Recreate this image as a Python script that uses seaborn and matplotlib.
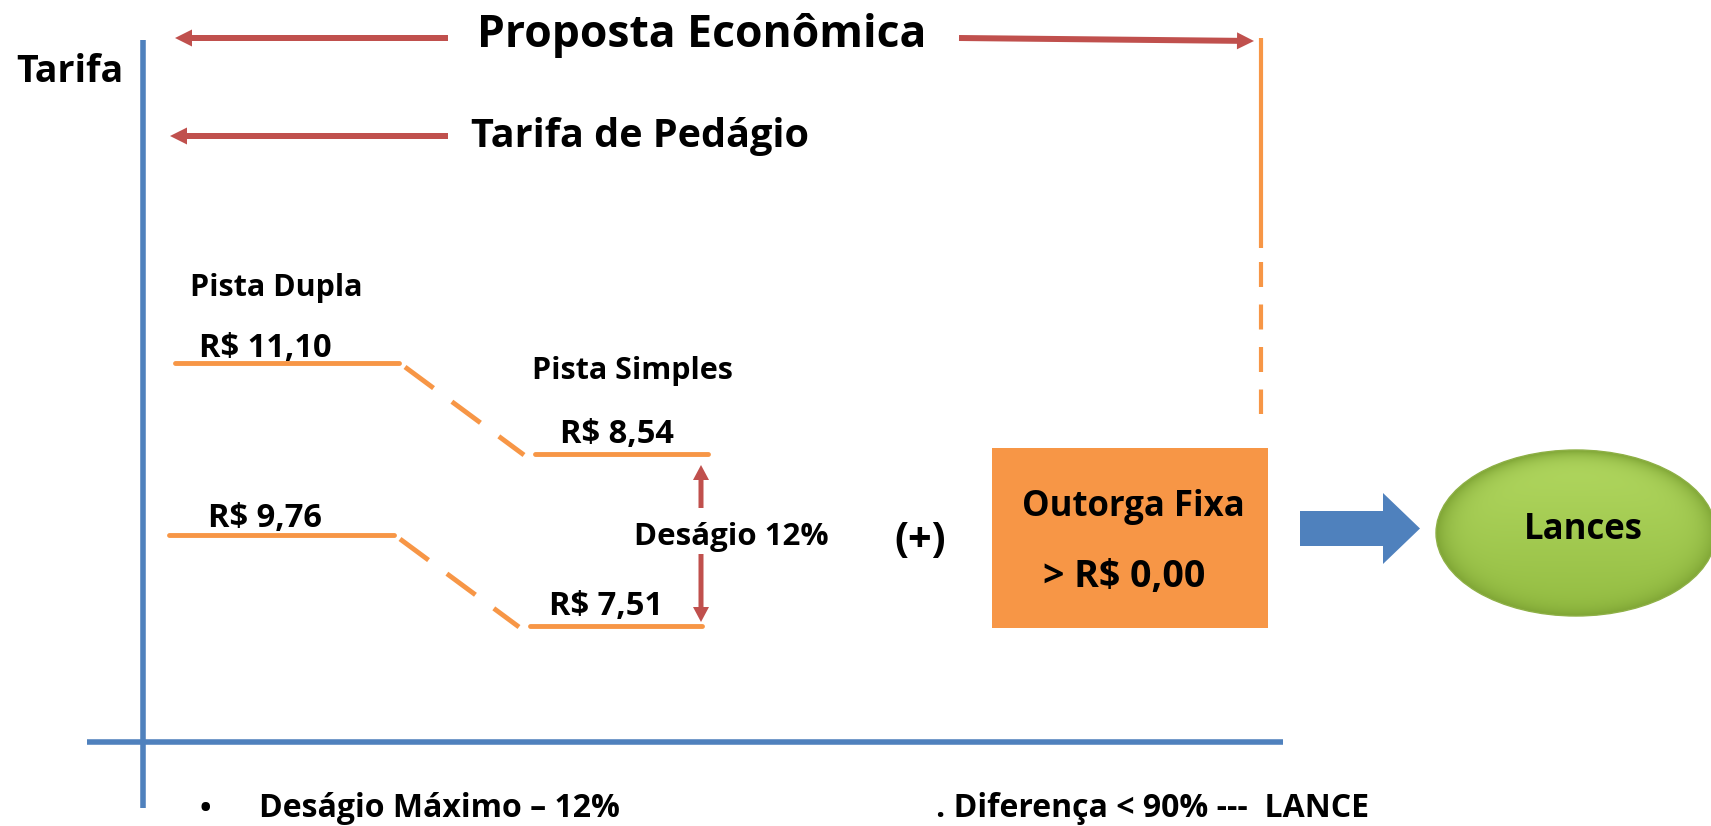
"""
plot.py - Proposta Econômica: tarifa de pedágio (deságio) + outorga fixa -> lances.
"""

import numpy as np
import pandas as pd
import matplotlib
matplotlib.use("Agg")
import matplotlib.pyplot as plt
import seaborn as sns
from matplotlib import font_manager
from matplotlib.patches import Ellipse, Rectangle, FancyArrow


# ---------------------------------------------------------------------------
# Data
# ---------------------------------------------------------------------------

tiers = ["Pista Dupla", "Pista Simples"]
tarifa_teto = [11.10, 8.54]       # tarifa máxima por tipo de pista
tarifa_desagio = [9.76, 7.51]     # tarifa com deságio máximo
desagio_max_pct = 12
outorga_min = 0.00
diferenca_pct = 90

titulo = "Proposta Econômica"
subtitulo = "Tarifa de Pedágio"
eixo_y = "Tarifa"
caixa = "Outorga Fixa"
resultado = "Lances"


def brl(v):
    return "R$ " + f"{v:.2f}".replace(".", ",")


# ---------------------------------------------------------------------------
# Layout (canvas in pixels, y grows downward)
# ---------------------------------------------------------------------------

W, H = 1711, 826
ORANGE = "#F79646"
RED = "#C0504D"
BLUE = "#4F81BD"

# horizontal extent of each tier's level segments: (teto row, deságio row)
seg_x = {
    "Pista Dupla": [(175, 399), (169, 394)],
    "Pista Simples": [(535, 708), (530, 702)],
}
seg_y = {
    "Pista Dupla": (363, 535),
    "Pista Simples": (454, 626),
}

installed = {f.name for f in font_manager.fontManager.ttflist}
FONT = next(f for f in ["Open Sans", "Lato", "DejaVu Sans"] if f in installed)

sns.set_theme(style="white")
plt.rcParams["font.family"] = [FONT, "DejaVu Sans"]
plt.rcParams["font.weight"] = "bold"
plt.rcParams["text.color"] = "black"

fig = plt.figure(figsize=(W / 100, H / 100), dpi=100)
ax = fig.add_axes([0, 0, 1, 1])

# ---------------------------------------------------------------------------
# Axes of the diagram
# ---------------------------------------------------------------------------

ax.plot([143, 143], [40, 808], color=BLUE, lw=4, solid_capstyle="butt")
ax.plot([87, 1283], [742, 742], color=BLUE, lw=4, solid_capstyle="butt")

# ---------------------------------------------------------------------------
# Tariff levels
# ---------------------------------------------------------------------------

rows = []
for t in tiers:
    for k, ((x0, x1), y) in enumerate(zip(seg_x[t], seg_y[t])):
        seg = f"{t}-{k}"
        rows.append({"seg": seg, "x": x0, "y": y})
        rows.append({"seg": seg, "x": x1, "y": y})
levels = pd.DataFrame(rows)
sns.lineplot(data=levels, x="x", y="y", units="seg", estimator=None,
             color=ORANGE, lw=3.5, ax=ax, legend=False)

# dashed connectors Pista Dupla -> Pista Simples
for k in range(2):
    x0 = seg_x["Pista Dupla"][k][1] + 6
    x1 = seg_x["Pista Simples"][k][0] - 11
    y0 = seg_y["Pista Dupla"][k] + 4
    y1 = seg_y["Pista Simples"][k] + 1
    ax.plot([x0, x1], [y0, y1], color=ORANGE, lw=3.5, dashes=(7.3, 4.7))

# value labels
label_pos = {
    "Pista Dupla": [(199, 357), (208, 527)],
    "Pista Simples": [(560, 443), (549, 615)],
}
for i, t in enumerate(tiers):
    for (lx, ly), v in zip(label_pos[t], [tarifa_teto[i], tarifa_desagio[i]]):
        ax.text(lx, ly, brl(v), fontsize=23.5, ha="left", va="baseline")

ax.text(190, 296, tiers[0], fontsize=22, ha="left", va="baseline")
ax.text(532, 379, tiers[1], fontsize=22, ha="left", va="baseline")

# deságio double arrow
ax.add_patch(FancyArrow(701, 508, 0, -43, width=5, head_width=16, head_length=15,
                        length_includes_head=True, color=RED, lw=0))
ax.add_patch(FancyArrow(701, 554, 0, 68, width=5, head_width=16, head_length=15,
                        length_includes_head=True, color=RED, lw=0))
ax.text(634, 545, f"Deságio {desagio_max_pct}%", fontsize=22.5, ha="left", va="baseline")

# ---------------------------------------------------------------------------
# Header arrows
# ---------------------------------------------------------------------------

ax.add_patch(FancyArrow(448, 38, -273, 0, width=6, head_width=17, head_length=17,
                        length_includes_head=True, color=RED, lw=0))
ax.add_patch(FancyArrow(448, 136, -278, 0, width=6, head_width=17, head_length=17,
                        length_includes_head=True, color=RED, lw=0))
ax.add_patch(FancyArrow(959, 38, 295, 3, width=6, head_width=17, head_length=17,
                        length_includes_head=True, color=RED, lw=0))

ax.text(16, 82, eixo_y, fontsize=27, ha="left", va="baseline")
ax.text(477, 47, titulo, fontsize=32, ha="left", va="baseline")
ax.text(471, 147, subtitulo, fontsize=28.5, ha="left", va="baseline")

# orange bracket down to the outorga box
ax.plot([1261, 1261], [38, 248], color=ORANGE, lw=3, solid_capstyle="butt")
ax.plot([1261, 1261], [262, 414], color=ORANGE, lw=3, dashes=(6, 4.2))

# ---------------------------------------------------------------------------
# Outorga box, block arrow, Lances ellipse
# ---------------------------------------------------------------------------

ax.text(920, 542, "(+)", fontsize=30, ha="center", va="center")

ax.add_patch(Rectangle((992, 448), 276, 180, facecolor=ORANGE, edgecolor="none"))
ax.text(1022, 516, caixa, fontsize=25, ha="left", va="baseline")
ax.text(1043, 587, "> " + brl(outorga_min), fontsize=27, ha="left", va="baseline")

ax.add_patch(FancyArrow(1300, 528.5, 120, 0, width=35, head_width=71, head_length=37,
                        length_includes_head=True, color=BLUE, lw=0))

ell_cx, ell_cy, ell_w, ell_h = 1576, 533, 280, 166
ell = Ellipse((ell_cx, ell_cy), ell_w, ell_h, facecolor="none",
              edgecolor="#8EB046", lw=1.0, zorder=3)
ax.add_patch(ell)
gy, gx = np.mgrid[-1:1:220j, -1:1:320j]
r = np.clip(np.sqrt(gx ** 2 + gy ** 2), 0, 1)
edge = r ** 10
vert = (gy + 1) / 2
top = np.array([0.70, 0.85, 0.38])
bottom = np.array([0.58, 0.74, 0.26])
rim = np.array([0.50, 0.65, 0.21])
base = top[None, None, :] * (1 - vert[..., None]) + bottom[None, None, :] * vert[..., None]
img = base * (1 - edge[..., None]) + rim[None, None, :] * edge[..., None]
im = ax.imshow(img, extent=(ell_cx - ell_w / 2, ell_cx + ell_w / 2,
                            ell_cy + ell_h / 2, ell_cy - ell_h / 2),
               origin="upper", aspect="auto", zorder=2, interpolation="bilinear")
im.set_clip_path(ell)
ax.text(1583, 539, resultado, fontsize=25, ha="center", va="baseline", zorder=4)

# ---------------------------------------------------------------------------
# Footer notes
# ---------------------------------------------------------------------------

ax.text(205, 817, "•", fontsize=22, ha="center", va="baseline")
ax.text(259, 817, f"Deságio Máximo – {desagio_max_pct}%", fontsize=23,
        ha="left", va="baseline")
ax.text(936, 817, f". Diferença < {diferenca_pct}% ---  LANCE", fontsize=23,
        ha="left", va="baseline")

ax.set_xlim(0, W)
ax.set_ylim(H, 0)
ax.axis("off")

fig.savefig("out.png", dpi=100)
plt.close(fig)
